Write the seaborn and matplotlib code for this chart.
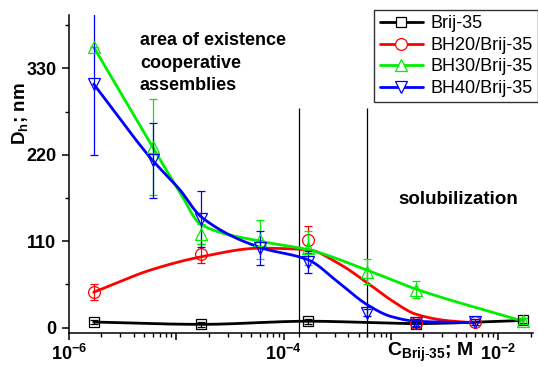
import numpy as np
import pandas as pd
import matplotlib
matplotlib.use("Agg")
import matplotlib.pyplot as plt
import seaborn as sns
from matplotlib.lines import Line2D
from matplotlib.ticker import FixedLocator, FuncFormatter, NullFormatter

# ---------------- data ----------------
names = ["Brij-35", "BH20/Brij-35", "BH30/Brij-35", "BH40/Brij-35"]
colors = ["#000000", "#ff0000", "#00ee00", "#0000ff"]
markers = ["s", "o", "^", "v"]

# measured points (markers with error bars)
brij_x = [1.7e-6, 1.7e-5, 1.7e-4, 1.7e-3, 1.7e-2]
brij_y = [7, 4, 8, 4, 9]
brij_e = [3, 3, 3, 3, 3]

bh20_x = [1.7e-6, 1.7e-5, 1.7e-4, 1.7e-3, 6e-3]
bh20_y = [45, 94, 112, 6, 7]
bh20_e = [10, 12, 17, 4, 4]

bh30_x = [1.7e-6, 6e-6, 1.7e-5, 6e-5, 1.7e-4, 6e-4, 1.7e-3, 1.7e-2]
bh30_y = [357, 230, 119, 112, 101, 71, 48, 8]
bh30_e = [0, 61, 13, 25, 22, 16, 11, 4]

bh40_x = [1.7e-6, 6e-6, 1.7e-5, 6e-5, 1.7e-4, 6e-4, 1.7e-3, 6e-3]
bh40_y = [310, 213, 138, 101, 84, 19, 6, 7]
bh40_e = [90, 48, 36, 22, 14, 4, 4, 4]

# smoothed guide curves (values of each drawn line)
brij_cx = [1.7e-6, 1.7e-5, 1.7e-4, 1.7e-3, 1.7e-2]
brij_cy = [7, 4, 8, 5, 9]

bh20_cx = [1.7e-6, 6e-6, 1.7e-5, 6e-5, 1.7e-4, 3.2e-4, 6e-4, 1e-3, 1.7e-3, 3.2e-3, 6e-3]
bh20_cy = [45, 74, 90, 101, 99, 82, 57, 35, 17, 9, 6]

bh30_cx = [1.7e-6, 6e-6, 1.07e-5, 1.7e-5, 6e-5, 1.7e-4, 6e-4, 1.7e-3, 1.7e-2]
bh30_cy = [357, 230, 173, 131, 110, 99, 73, 49, 8]

bh40_cx = [1.7e-6, 6e-6, 1.07e-5, 1.7e-5, 6e-5, 1.7e-4, 3.2e-4, 6e-4, 1e-3, 1.7e-3, 6e-3]
bh40_cy = [310, 213, 176, 141, 102, 86, 58, 29, 14, 8, 6]

vlines_x = [1.38e-4, 6.0e-4]
vlines_top = 280

yticks_major = [0, 110, 220, 330]
yticks_minor = [55, 165, 275, 385]


def pchip(xk, yk, xs):
    xk = np.asarray(xk, float); yk = np.asarray(yk, float)
    h = np.diff(xk); d = np.diff(yk) / h
    n = len(xk)
    m = np.zeros(n)
    for i in range(1, n - 1):
        if d[i - 1] * d[i] > 0:
            w1 = 2 * h[i] + h[i - 1]; w2 = h[i] + 2 * h[i - 1]
            m[i] = (w1 + w2) / (w1 / d[i - 1] + w2 / d[i])
    m[0] = d[0]; m[-1] = d[-1]
    idx = np.clip(np.searchsorted(xk, xs) - 1, 0, n - 2)
    t = (xs - xk[idx]) / h[idx]
    h00 = 2 * t**3 - 3 * t**2 + 1; h10 = t**3 - 2 * t**2 + t
    h01 = -2 * t**3 + 3 * t**2; h11 = t**3 - t**2
    return (h00 * yk[idx] + h10 * h[idx] * m[idx] + h01 * yk[idx + 1]
            + h11 * h[idx] * m[idx + 1])


sns.set_theme(style="ticks")
plt.rcParams["font.family"] = ["Liberation Sans", "DejaVu Sans"]
plt.rcParams["mathtext.fontset"] = "custom"
plt.rcParams["mathtext.rm"] = "Liberation Sans"
plt.rcParams["mathtext.bf"] = "Liberation Sans:bold"
plt.rcParams["mathtext.it"] = "Liberation Sans:italic"
plt.rcParams["text.color"] = "black"
plt.rcParams["axes.labelcolor"] = "black"
plt.rcParams["xtick.color"] = "black"
plt.rcParams["ytick.color"] = "black"

fig = plt.figure(figsize=(5.38, 3.67), dpi=100)
ax = fig.add_axes([69 / 538, 1 - 333 / 367, 464 / 538, 318 / 367])
ax.set_xscale("log")

curves = [(brij_cx, brij_cy), (bh20_cx, bh20_cy), (bh30_cx, bh30_cy), (bh40_cx, bh40_cy)]
points = [(brij_x, brij_y, brij_e), (bh20_x, bh20_y, bh20_e),
          (bh30_x, bh30_y, bh30_e), (bh40_x, bh40_y, bh40_e)]
msizes = [7, 8.5, 9, 9]
lws = [2.0, 2.0, 2.0, 2.0]

for i, (name, col) in enumerate(zip(names, colors)):
    cx, cy = curves[i]
    u = np.log10(cx)
    us = np.linspace(u[0], u[-1], 300)
    ys = pchip(u, cy, us)
    df = pd.DataFrame({"x": 10 ** us, "y": ys})
    sns.lineplot(data=df, x="x", y="y", ax=ax, color=col, lw=lws[i],
                 sort=False, estimator=None, legend=False, zorder=2 + i * 0.1)

for i, (name, col) in enumerate(zip(names, colors)):
    px, py, pe = points[i]
    ax.errorbar(px, py, yerr=pe, fmt=markers[i], ms=msizes[i], mfc="none",
                mec=col, mew=0.9, ecolor=col, elinewidth=0.9, capsize=2.7,
                capthick=0.9, zorder=3 + i * 0.1, lw=0)

ax.vlines(vlines_x, -12, vlines_top, color="black", lw=0.9, zorder=1.5,
          clip_on=False)

ax.set_xlim(1e-6, 0.021)
ax.set_ylim(-7, 398)

for s in ["top", "right"]:
    ax.spines[s].set_visible(False)
for s in ["left", "bottom"]:
    ax.spines[s].set_linewidth(1.1)
    ax.spines[s].set_color("black")

ax.yaxis.set_major_locator(FixedLocator(yticks_major))
ax.yaxis.set_minor_locator(FixedLocator(yticks_minor))
ax.xaxis.set_major_locator(FixedLocator([10.0 ** k for k in range(-6, -1)]))
ax.xaxis.set_minor_locator(FixedLocator([m * 10.0 ** k for k in range(-6, -1)
                                         for m in range(2, 10)]))


def xfmt(v, pos):
    e = int(round(np.log10(v)))
    if e in (-6, -4, -2):
        return r"$\mathbf{10^{%d}}$" % e
    return ""


ax.xaxis.set_major_formatter(FuncFormatter(xfmt))
ax.xaxis.set_minor_formatter(NullFormatter())
ax.tick_params(axis="both", which="major", direction="out", length=5,
               width=1.1, colors="black", labelsize=13)
ax.tick_params(axis="both", which="minor", direction="out", length=3,
               width=1.0, colors="black")
ax.tick_params(axis="x", which="major", pad=3)
ax.tick_params(axis="y", which="major", pad=4)
for lab in ax.get_yticklabels():
    lab.set_fontweight("bold")

ax.set_ylabel(r"D$_\mathbf{h}$; nm", fontsize=13.5, fontweight="bold",
              color="black")
ax.yaxis.set_label_coords(-0.085, 0.69)
ax.set_xlabel(r"C$_\mathbf{Brij\text{-}35}$; M", fontsize=14,
              fontweight="bold", color="black")
ax.xaxis.set_label_coords(0.777, -0.025)

ax.text(0.153, 0.945, "area of existence\ncooperative\nassemblies",
        transform=ax.transAxes, ha="left", va="top", fontsize=13,
        fontweight="bold", linespacing=1.42, color="black")
ax.text(0.84, 0.447, "solubilization", transform=ax.transAxes, ha="center",
        va="top", fontsize=13.5, fontweight="bold", color="black")

handles = [Line2D([0], [0], color=c, lw=2, marker=m, ms=s, mfc="white",
                  mec=c, mew=0.9) for c, m, s in zip(colors, markers, msizes)]
leg = fig.legend(handles, names, loc="upper right",
                 bbox_to_anchor=(1.0, 1 - 10 / 367), fontsize=13,
                 frameon=True, fancybox=False, handlelength=2.4,
                 handletextpad=0.4, labelspacing=0.25, borderpad=0.3,
                 borderaxespad=0)
leg.get_frame().set_edgecolor("black")
leg.get_frame().set_linewidth(1.0)
for t in leg.get_texts():
    t.set_color("black")

fig.savefig("out.png", dpi=100)
